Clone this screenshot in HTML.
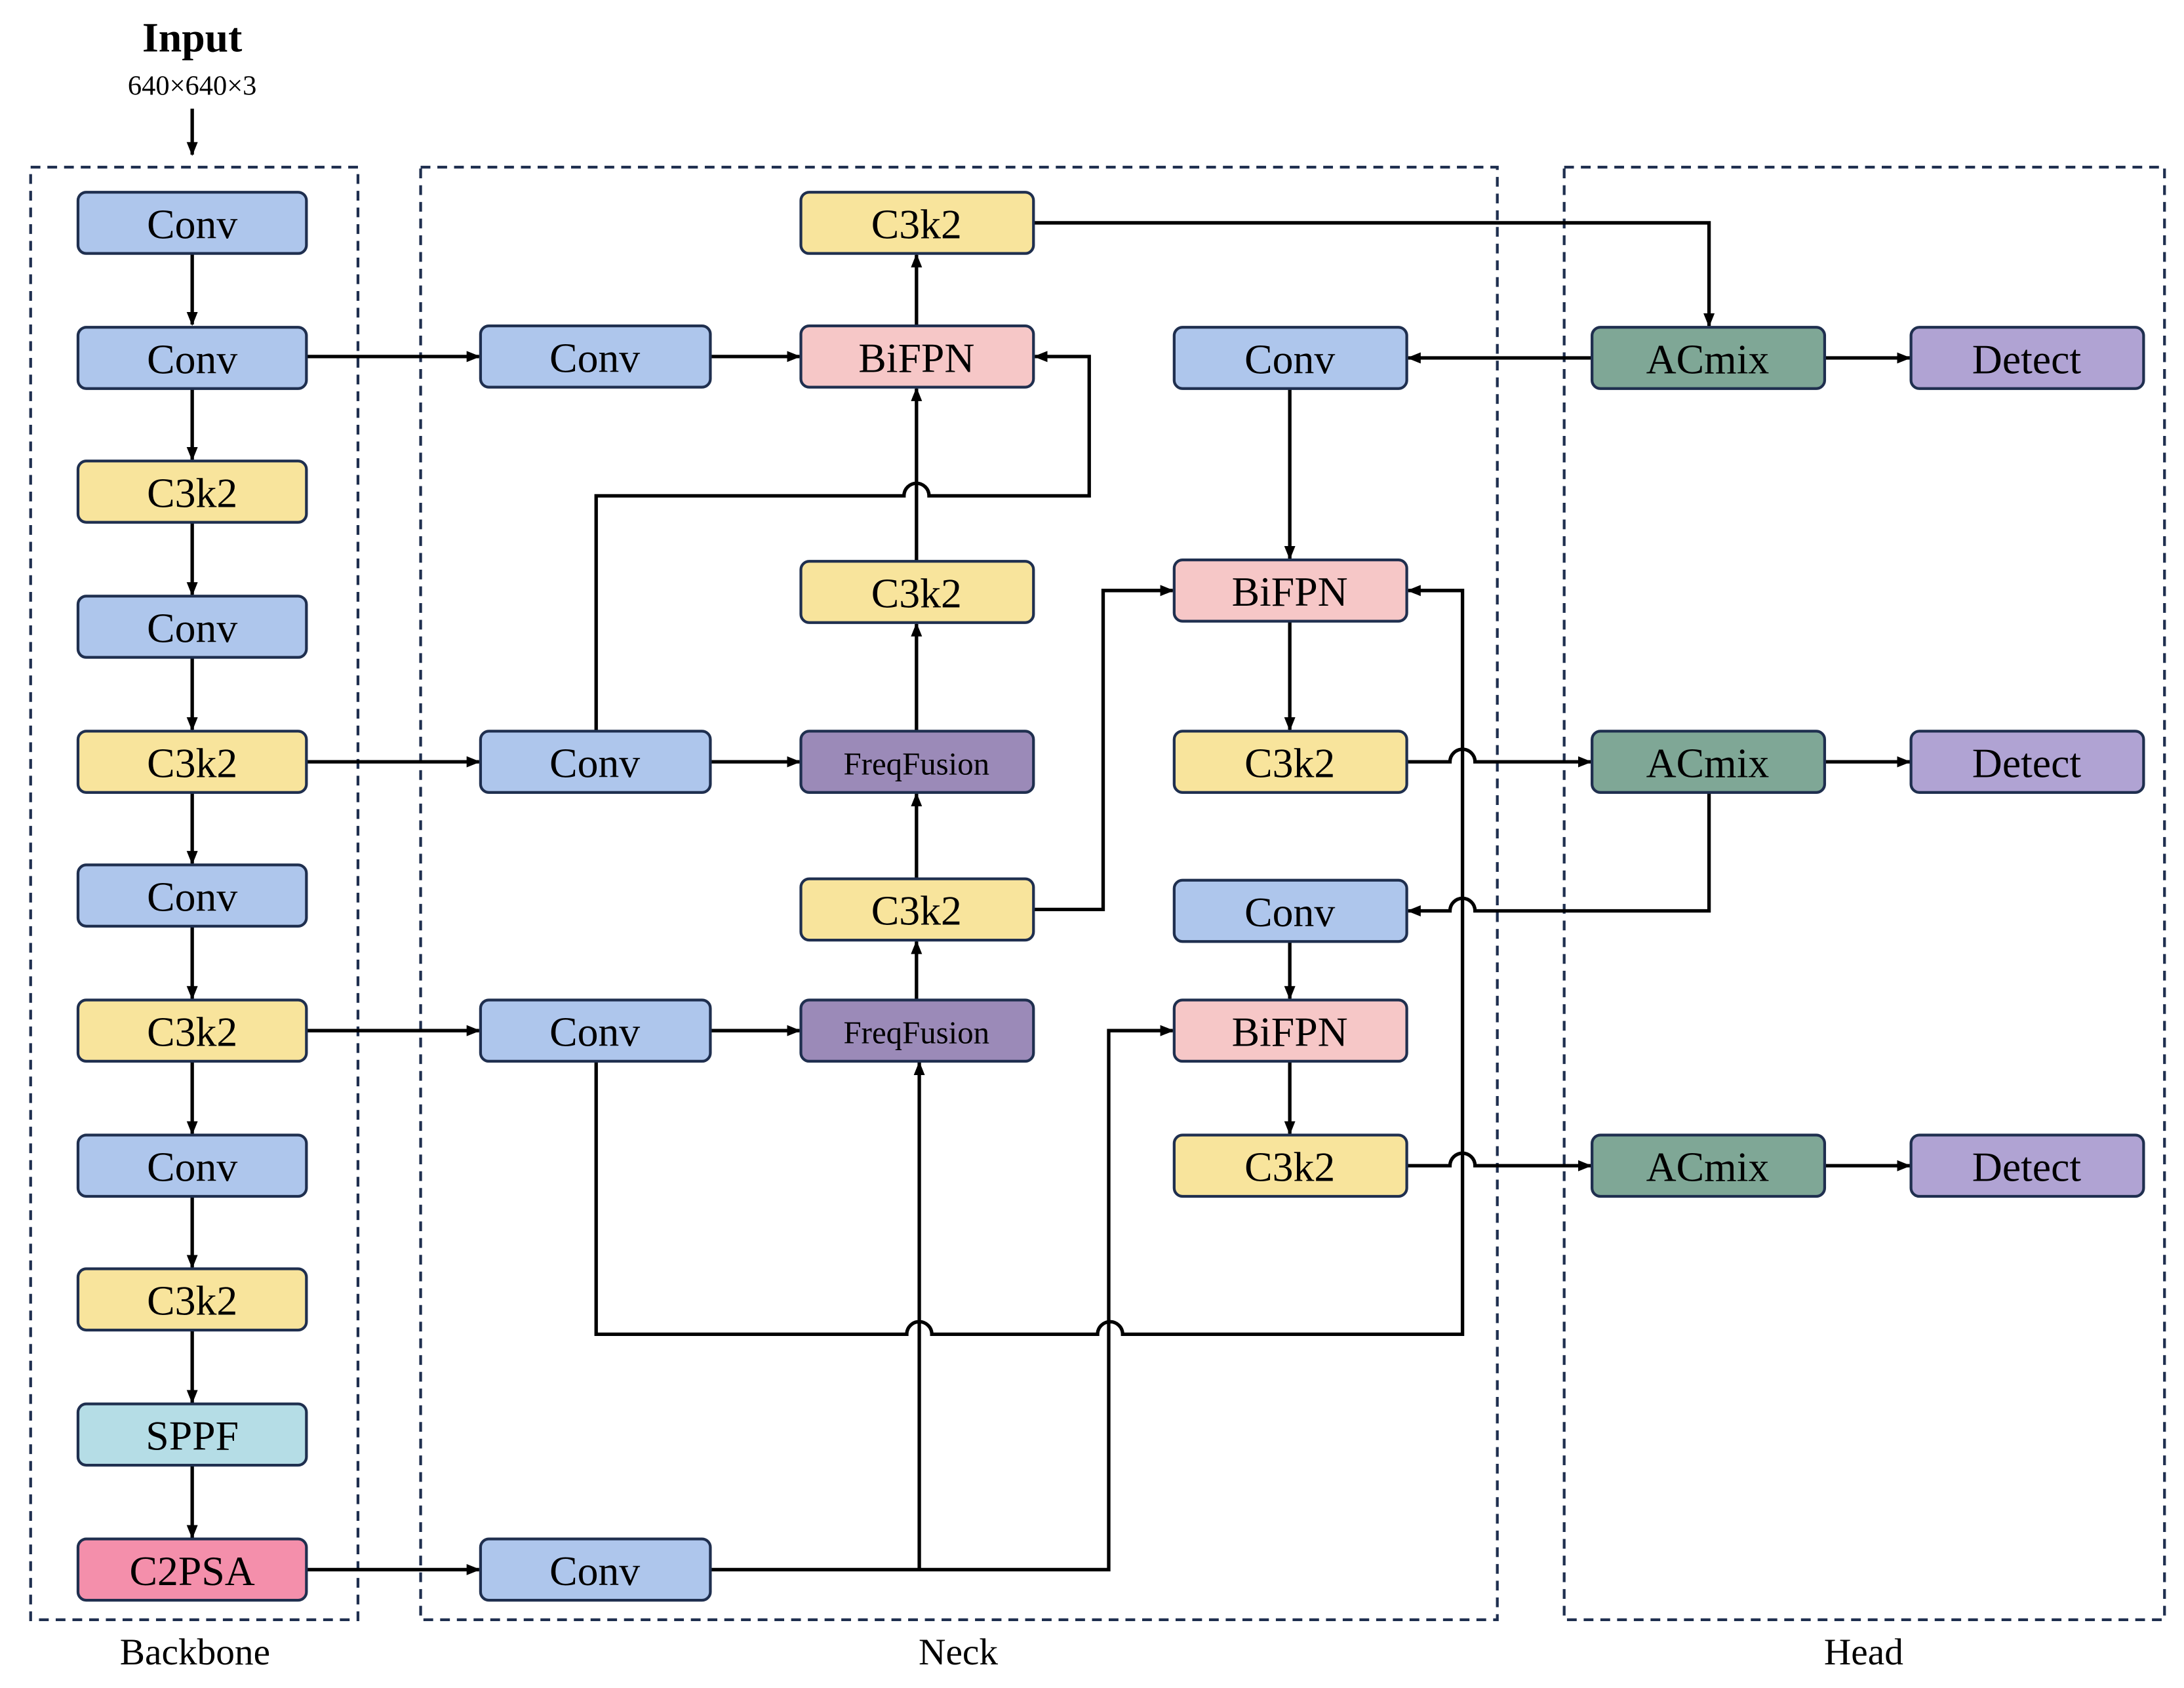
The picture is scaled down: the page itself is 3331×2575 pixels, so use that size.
<!DOCTYPE html>
<html><head><meta charset="utf-8"><style>html,body{margin:0;padding:0;background:#fff}svg{display:block}</style></head>
<body>
<svg xmlns="http://www.w3.org/2000/svg" width="3331" height="2575" viewBox="0 0 1568 1212" preserveAspectRatio="none" font-family="'Liberation Serif',serif">
<defs><marker id="a" markerWidth="10" markerHeight="8" refX="9" refY="4" orient="auto" markerUnits="userSpaceOnUse"><path d="M0,0 L10,4 L0,8 z" fill="#000"/></marker></defs>
<rect width="1568" height="1212" fill="#fff"/>
<g fill="none" stroke="#1f2f4f" stroke-width="2" stroke-dasharray="7,5">
<rect x="22" y="120" width="235" height="1043"/>
<rect x="302" y="120" width="773" height="1043"/>
<rect x="1123" y="120" width="431" height="1043"/>
</g>
<text x="138" y="37" font-size="30" font-weight="bold" text-anchor="middle">Input</text>
<text x="138" y="68" font-size="20" text-anchor="middle">640×640×3</text>
<g font-size="27" text-anchor="middle"><text x="140" y="1195">Backbone</text><text x="688" y="1195">Neck</text><text x="1338" y="1195">Head</text></g>
<g fill="none" stroke="#000" stroke-width="2.5">
<path d="M138,78 V111" marker-end="url(#a)"/>
<path d="M138,182 V233" marker-end="url(#a)"/>
<path d="M138,279 V330" marker-end="url(#a)"/>
<path d="M138,375 V427" marker-end="url(#a)"/>
<path d="M138,472 V524" marker-end="url(#a)"/>
<path d="M138,569 V620" marker-end="url(#a)"/>
<path d="M138,665 V717" marker-end="url(#a)"/>
<path d="M138,762 V814" marker-end="url(#a)"/>
<path d="M138,859 V910" marker-end="url(#a)"/>
<path d="M138,955 V1007" marker-end="url(#a)"/>
<path d="M138,1052 V1104" marker-end="url(#a)"/>
<path d="M220,256 H344" marker-end="url(#a)"/>
<path d="M510,256 H574" marker-end="url(#a)"/>
<path d="M658,234 V183" marker-end="url(#a)"/>
<path d="M742,160 H1227 V234" marker-end="url(#a)"/>
<path d="M220,547 H344" marker-end="url(#a)"/>
<path d="M510,547 H574" marker-end="url(#a)"/>
<path d="M428,525 V356 H649 A9,9 0 0 1 667,356 H782 V256 H743" marker-end="url(#a)"/>
<path d="M658,403 V279" marker-end="url(#a)"/>
<path d="M658,525 V448" marker-end="url(#a)"/>
<path d="M658,631 V570" marker-end="url(#a)"/>
<path d="M658,718 V676" marker-end="url(#a)"/>
<path d="M742,653 H792 V424 H842" marker-end="url(#a)"/>
<path d="M220,740 H344" marker-end="url(#a)"/>
<path d="M510,740 H574" marker-end="url(#a)"/>
<path d="M428,762 V958 H651 A9,9 0 0 1 669,958 H788 A9,9 0 0 1 806,958 H1050 V424 H1011" marker-end="url(#a)"/>
<path d="M220,1127 H344" marker-end="url(#a)"/>
<path d="M510,1127 H796 V740 H842" marker-end="url(#a)"/>
<path d="M660,1127 V763" marker-end="url(#a)"/>
<path d="M1143,257 H1011" marker-end="url(#a)"/>
<path d="M1310,257 H1371" marker-end="url(#a)"/>
<path d="M926,279 V401" marker-end="url(#a)"/>
<path d="M926,446 V524" marker-end="url(#a)"/>
<path d="M1010,547 H1041 A9,9 0 0 1 1059,547 H1142" marker-end="url(#a)"/>
<path d="M1310,547 H1371" marker-end="url(#a)"/>
<path d="M1227,569 V654 H1059 A9,9 0 0 0 1041,654 H1011" marker-end="url(#a)"/>
<path d="M926,676 V717" marker-end="url(#a)"/>
<path d="M926,762 V814" marker-end="url(#a)"/>
<path d="M1010,837 H1041 A9,9 0 0 1 1059,837 H1142" marker-end="url(#a)"/>
<path d="M1310,837 H1371" marker-end="url(#a)"/>
</g>
<g stroke="#1f2f4f" stroke-width="2" font-size="30" text-anchor="middle">
<g><rect x="56" y="138" width="164" height="44" rx="6" fill="#aec6ec"/><text x="138" y="171" stroke="none">Conv</text></g>
<g><rect x="56" y="235" width="164" height="44" rx="6" fill="#aec6ec"/><text x="138" y="268" stroke="none">Conv</text></g>
<g><rect x="56" y="331" width="164" height="44" rx="6" fill="#f8e49c"/><text x="138" y="364" stroke="none">C3k2</text></g>
<g><rect x="56" y="428" width="164" height="44" rx="6" fill="#aec6ec"/><text x="138" y="461" stroke="none">Conv</text></g>
<g><rect x="56" y="525" width="164" height="44" rx="6" fill="#f8e49c"/><text x="138" y="558" stroke="none">C3k2</text></g>
<g><rect x="56" y="621" width="164" height="44" rx="6" fill="#aec6ec"/><text x="138" y="654" stroke="none">Conv</text></g>
<g><rect x="56" y="718" width="164" height="44" rx="6" fill="#f8e49c"/><text x="138" y="751" stroke="none">C3k2</text></g>
<g><rect x="56" y="815" width="164" height="44" rx="6" fill="#aec6ec"/><text x="138" y="848" stroke="none">Conv</text></g>
<g><rect x="56" y="911" width="164" height="44" rx="6" fill="#f8e49c"/><text x="138" y="944" stroke="none">C3k2</text></g>
<g><rect x="56" y="1008" width="164" height="44" rx="6" fill="#b5dde6"/><text x="138" y="1041" stroke="none">SPPF</text></g>
<g><rect x="56" y="1105" width="164" height="44" rx="6" fill="#f48fab"/><text x="138" y="1138" stroke="none">C2PSA</text></g>

<g><rect x="345" y="234" width="165" height="44" rx="6" fill="#aec6ec"/><text x="427" y="267" stroke="none">Conv</text></g>
<g><rect x="345" y="525" width="165" height="44" rx="6" fill="#aec6ec"/><text x="427" y="558" stroke="none">Conv</text></g>
<g><rect x="345" y="718" width="165" height="44" rx="6" fill="#aec6ec"/><text x="427" y="751" stroke="none">Conv</text></g>
<g><rect x="345" y="1105" width="165" height="44" rx="6" fill="#aec6ec"/><text x="427" y="1138" stroke="none">Conv</text></g>

<g><rect x="575" y="138" width="167" height="44" rx="6" fill="#f8e49c"/><text x="658" y="171" stroke="none">C3k2</text></g>
<g><rect x="575" y="234" width="167" height="44" rx="6" fill="#f6c7c7"/><text x="658" y="267" stroke="none">BiFPN</text></g>
<g><rect x="575" y="403" width="167" height="44" rx="6" fill="#f8e49c"/><text x="658" y="436" stroke="none">C3k2</text></g>
<g><rect x="575" y="525" width="167" height="44" rx="6" fill="#9b8ab8"/><text x="658" y="556" stroke="none" font-size="23">FreqFusion</text></g>
<g><rect x="575" y="631" width="167" height="44" rx="6" fill="#f8e49c"/><text x="658" y="664" stroke="none">C3k2</text></g>
<g><rect x="575" y="718" width="167" height="44" rx="6" fill="#9b8ab8"/><text x="658" y="749" stroke="none" font-size="23">FreqFusion</text></g>

<g><rect x="843" y="235" width="167" height="44" rx="6" fill="#aec6ec"/><text x="926" y="268" stroke="none">Conv</text></g>
<g><rect x="843" y="402" width="167" height="44" rx="6" fill="#f6c7c7"/><text x="926" y="435" stroke="none">BiFPN</text></g>
<g><rect x="843" y="525" width="167" height="44" rx="6" fill="#f8e49c"/><text x="926" y="558" stroke="none">C3k2</text></g>
<g><rect x="843" y="632" width="167" height="44" rx="6" fill="#aec6ec"/><text x="926" y="665" stroke="none">Conv</text></g>
<g><rect x="843" y="718" width="167" height="44" rx="6" fill="#f6c7c7"/><text x="926" y="751" stroke="none">BiFPN</text></g>
<g><rect x="843" y="815" width="167" height="44" rx="6" fill="#f8e49c"/><text x="926" y="848" stroke="none">C3k2</text></g>

<g><rect x="1143" y="235" width="167" height="44" rx="6" fill="#7fa796"/><text x="1226" y="268" stroke="none">ACmix</text></g>
<g><rect x="1143" y="525" width="167" height="44" rx="6" fill="#7fa796"/><text x="1226" y="558" stroke="none">ACmix</text></g>
<g><rect x="1143" y="815" width="167" height="44" rx="6" fill="#7fa796"/><text x="1226" y="848" stroke="none">ACmix</text></g>
<g><rect x="1372" y="235" width="167" height="44" rx="6" fill="#b0a3d3"/><text x="1455" y="268" stroke="none">Detect</text></g>
<g><rect x="1372" y="525" width="167" height="44" rx="6" fill="#b0a3d3"/><text x="1455" y="558" stroke="none">Detect</text></g>
<g><rect x="1372" y="815" width="167" height="44" rx="6" fill="#b0a3d3"/><text x="1455" y="848" stroke="none">Detect</text></g>
</g>
</svg>
</body></html>
